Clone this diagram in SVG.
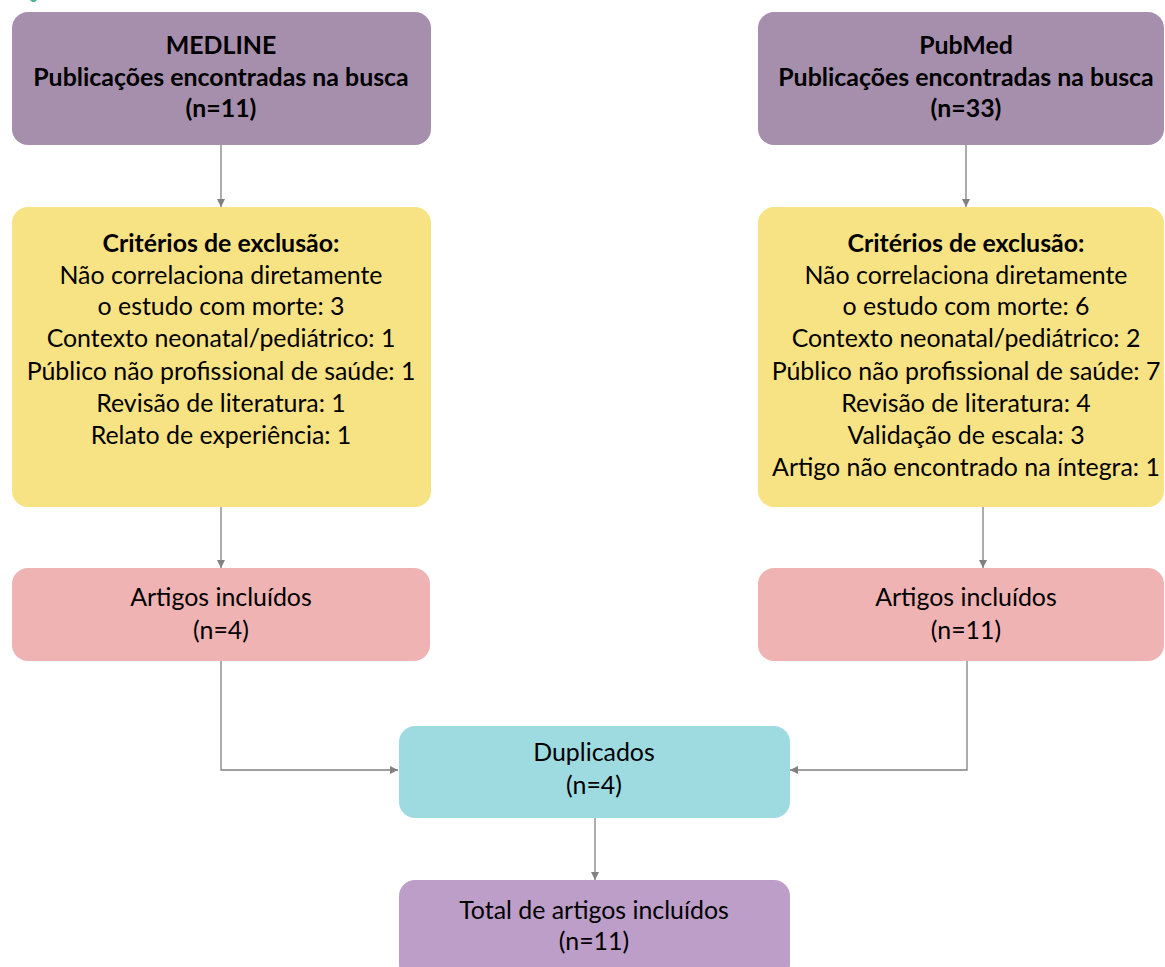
<svg xmlns="http://www.w3.org/2000/svg" width="1165" height="967" viewBox="0 0 1165 967">
<style>
text{font-family:Lato,"Liberation Sans",sans-serif;font-size:24.9px;fill:#000;text-anchor:middle}
.b{font-weight:bold}
.c{fill:none;stroke:#808080;stroke-width:1.3}
</style>
<defs>
<marker id="ar" viewBox="0 0 10 10" refX="10" refY="5" markerWidth="8" markerHeight="8" markerUnits="userSpaceOnUse" orient="auto">
<path d="M0 0L10 5L0 10Z" fill="#808080"/>
</marker>
</defs>
<rect width="1165" height="967" fill="#fff"/>
<path d="M30 0L37 0L35 2L32 2Z" fill="#4db39a"/>
<g id="medline">
<rect x="12" y="12" width="419" height="133" rx="16" fill="#a68fad"/>
<text class="b" x="221" y="54">MEDLINE</text>
<text class="b" x="221" y="86">Publicações encontradas na busca</text>
<text class="b" x="221" y="117">(n=11)</text>
</g>
<g id="pubmed">
<rect x="758" y="12" width="406" height="133" rx="16" fill="#a68fad"/>
<text class="b" x="966" y="54">PubMed</text>
<text class="b" x="966" y="86">Publicações encontradas na busca</text>
<text class="b" x="966" y="117">(n=33)</text>
</g>
<g id="excl-left">
<rect x="12" y="207" width="419" height="300" rx="16" fill="#f7e384"/>
<text class="b" x="221" y="252">Critérios de exclusão:</text>
<text x="221" y="284">Não correlaciona diretamente</text>
<text x="221" y="315">o estudo com morte: 3</text>
<text x="221" y="347">Contexto neonatal/pediátrico: 1</text>
<text x="221" y="380">Público não profissional de saúde: 1</text>
<text x="221" y="412">Revisão de literatura: 1</text>
<text x="221" y="444">Relato de experiência: 1</text>
</g>
<g id="excl-right">
<rect x="758" y="207" width="406" height="300" rx="16" fill="#f7e384"/>
<text class="b" x="966" y="252">Critérios de exclusão:</text>
<text x="966" y="284">Não correlaciona diretamente</text>
<text x="966" y="315">o estudo com morte: 6</text>
<text x="966" y="347">Contexto neonatal/pediátrico: 2</text>
<text x="966" y="380">Público não profissional de saúde: 7</text>
<text x="966" y="412">Revisão de literatura: 4</text>
<text x="966" y="444">Validação de escala: 3</text>
<text x="966" y="476">Artigo não encontrado na íntegra: 1</text>
</g>
<g id="incl-left">
<rect x="12" y="568" width="418" height="93" rx="16" fill="#efb3b3"/>
<text x="221" y="606">Artigos incluídos</text>
<text x="221" y="639">(n=4)</text>
</g>
<g id="incl-right">
<rect x="758" y="568" width="406" height="93" rx="16" fill="#efb3b3"/>
<text x="966" y="606">Artigos incluídos</text>
<text x="966" y="639">(n=11)</text>
</g>
<g id="duplicados">
<rect x="399" y="726" width="391" height="92" rx="16" fill="#9edbe0"/>
<text x="594" y="761">Duplicados</text>
<text x="594" y="794">(n=4)</text>
</g>
<g id="total">
<rect x="399" y="880" width="391" height="100" rx="16" fill="#bc9ec8"/>
<text x="594" y="919">Total de artigos incluídos</text>
<text x="594" y="950">(n=11)</text>
</g>
<g id="connectors">
<path class="c" d="M221 145V207" marker-end="url(#ar)"/>
<path class="c" d="M966 145V207" marker-end="url(#ar)"/>
<path class="c" d="M221 507V568" marker-end="url(#ar)"/>
<path class="c" d="M983 507V568" marker-end="url(#ar)"/>
<path class="c" d="M221 661V770H398" marker-end="url(#ar)"/>
<path class="c" d="M967 661V770H790" marker-end="url(#ar)"/>
<path class="c" d="M595 818V880" marker-end="url(#ar)"/>
</g>
</svg>
